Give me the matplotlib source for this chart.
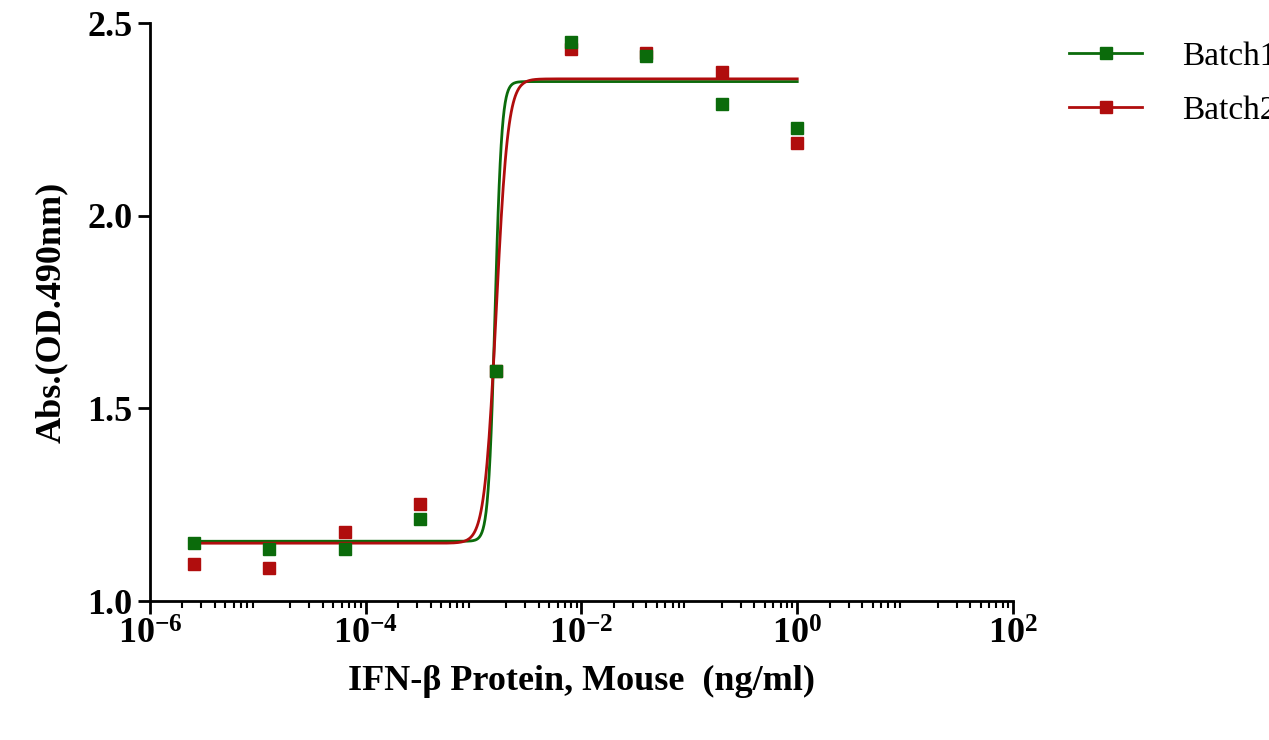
import numpy as np
import matplotlib
matplotlib.use("Agg")
import matplotlib.pyplot as plt
from matplotlib.lines import Line2D

conc = [1/5**8, 1/5**7, 1/5**6, 1/5**5, 1/5**4, 1/5**3, 1/5**2, 1/5**1, 1.0]
batch1 = [1.150, 1.135, 1.135, 1.213, 1.597, 2.451, 2.414, 2.290, 2.228]
batch2 = [1.096, 1.086, 1.179, 1.252, 1.597, 2.433, 2.422, 2.373, 2.189]
# 4PL fit parameters: bottom, top, EC50, hill
fit1 = (1.155, 2.348, 1.58e-3, 14.0)
fit2 = (1.150, 2.355, 1.62e-3, 8.0)
colors = ["#0b6b0b", "#b00d0d"]
labels = ["Batch1", "Batch2"]

plt.rcParams['font.family'] = ['Liberation Serif', 'DejaVu Serif']
plt.rcParams['mathtext.fontset'] = 'custom'
plt.rcParams['mathtext.rm'] = 'Liberation Serif:bold'
plt.rcParams['mathtext.bf'] = 'Liberation Serif:bold'
plt.rcParams['mathtext.default'] = 'bf'

fig = plt.figure(figsize=(12.69, 7.40), dpi=100)
ax = fig.add_axes([150/1269, 1-601/740, (1013-150)/1269, (601-23)/740])

xs = np.logspace(np.log10(conc[0]), 0, 600)
for fit, c in [(fit1, colors[0]), (fit2, colors[1])]:
    b, t, ec, h = fit
    ax.plot(xs, b + (t-b)/(1+(ec/xs)**h), color=c, lw=2)
for ys, c in [(batch2, colors[1]), (batch1, colors[0])]:
    ax.plot(conc, ys, 's', color=c, ms=8, ls='none')

ax.set_xscale('log')
ax.set_xlim(1e-6, 1e2)
ax.set_ylim(1.0, 2.5)
ax.set_yticks([1.0, 1.5, 2.0, 2.5])
ax.set_xticks([1e-6, 1e-4, 1e-2, 1e0, 1e2])
ax.set_xticklabels([r'10$^{-6}$', r'10$^{-4}$', r'10$^{-2}$', r'10$^{0}$', r'10$^{2}$'])
ax.xaxis.set_minor_locator(matplotlib.ticker.LogLocator(base=10, subs=np.arange(2, 10), numticks=100))
ax.xaxis.set_minor_formatter(matplotlib.ticker.NullFormatter())
for s in ['top', 'right']:
    ax.spines[s].set_visible(False)
for s in ['left', 'bottom']:
    ax.spines[s].set_linewidth(2)
ax.tick_params(width=2, length=9, labelsize=26, direction='out')
ax.tick_params(which='minor', width=1.5, length=5)
for l in ax.get_xticklabels() + ax.get_yticklabels():
    l.set_fontweight('bold')
ax.set_xlabel('IFN-β Protein, Mouse  (ng/ml)', fontsize=26, fontweight='bold', labelpad=10)
ax.set_ylabel('Abs.(OD.490nm)', fontsize=26, fontweight='bold', labelpad=14)
handles = [Line2D([], [], color=c, lw=2, marker='s', ms=8) for c in colors]
ax.legend(handles, labels, loc='upper left', bbox_to_anchor=(1.03, 1.02), frameon=False,
          fontsize=24, handlelength=2.2, labelspacing=0.7, handletextpad=1.2)
fig.savefig('out.png', dpi=100)
